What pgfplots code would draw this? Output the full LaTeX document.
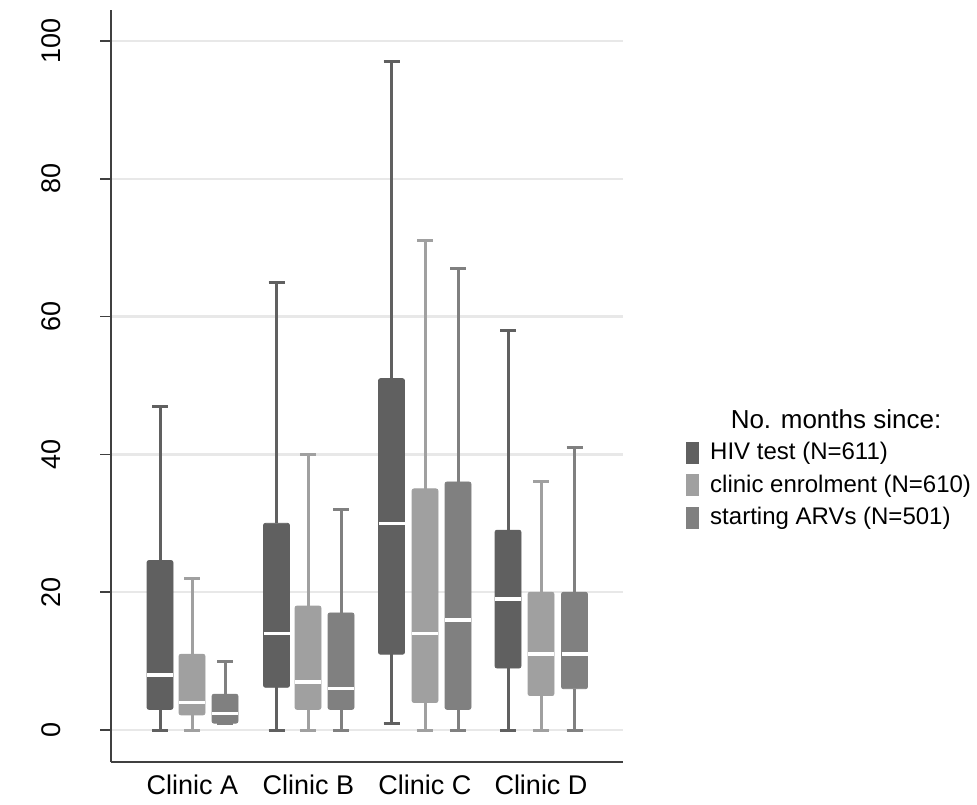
\documentclass[border=0pt]{standalone}
\usepackage{fontspec}
\setmainfont{Liberation Sans}
\usepackage{pgfplots}
\pgfplotsset{compat=1.18}
\usepgfplotslibrary{statistics}
\definecolor{cHIV}{HTML}{606060}
\definecolor{cENR}{HTML}{A0A0A0}
\definecolor{cARV}{HTML}{808080}
\definecolor{axc}{HTML}{404040}
\newcommand{\bx}[7]{%
  \addplot+[forget plot, mark=none, solid, draw=#7, fill=#7,
    boxplot prepared={draw position=#1, lower whisker=#2, lower quartile=#3,
      median=#4, upper quartile=#5, upper whisker=#6,
      box extend=26, whisker extend=16},
    boxplot/every box/.style={fill=#7, draw=#7, rounded corners=1pt, line width=0.4pt},
    boxplot/every whisker/.style={draw=#7, line width=1.5pt},
    boxplot/every median/.style={draw=white, line width=1.8pt}]
  coordinates {};}
\begin{document}
\begin{tikzpicture}
\useasboundingbox (0,0) rectangle (488.5pt,402pt);
\begin{axis}[
  at={(55.5pt,21pt)}, anchor=south west,
  scale only axis, width=256pt, height=376pt,
  xmin=111, xmax=623, ymin=-4.64, ymax=104.5,
  boxplot/draw direction=y,
  axis x line=bottom, axis y line=left,
  axis line style={-, draw=axc, line width=0.8pt},
  ytick={0,20,40,60,80,100},
  ymajorgrids, grid style={gray!18, line width=1.2pt},
  tick align=outside, major tick length=5.5pt,
  ytick style={draw=axc, line width=0.8pt},
  xtick={192.3,308.5,424.8,541},
  xticklabels={Clinic A,Clinic B,Clinic C,Clinic D},
  xtick style={draw=none},
  yticklabel style={xshift=-20pt, rotate=90, anchor=base, font=\fontsize{13.5}{16}\selectfont},
  xticklabel style={yshift=2.5pt, font=\fontsize{13.5}{16}\selectfont},
  /pgf/number format/assume math mode=true,
  legend style={at={(1.111,0.436)}, anchor=north west, draw=none, fill=none,
    font=\fontsize{12}{14}\selectfont, row sep=2pt},
  legend cell align=left,
  legend image code/.code={\fill[#1, draw=none] (0pt,-5.5pt) rectangle (6.5pt,5.5pt); \path[draw=none, fill=none] (0pt,0pt) -- (10pt,0pt);},
]
% Clinic A
\bx{160}{0}{3}{8}{24.6}{47}{cHIV}
\bx{192}{0}{2.2}{4}{11}{22}{cENR}
\bx{225}{1}{1}{2.4}{5.2}{10}{cARV}
% Clinic B
\bx{276.5}{0}{6.2}{14}{30}{65}{cHIV}
\bx{308}{0}{3}{7}{18}{40}{cENR}
\bx{341}{0}{3}{6}{17}{32}{cARV}
% Clinic C
\bx{391.5}{1}{11}{30}{51}{97}{cHIV}
\bx{425}{0}{4}{14}{35}{71}{cENR}
\bx{458}{0}{3}{16}{36}{67}{cARV}
% Clinic D
\bx{508}{0}{9}{19}{29}{58}{cHIV}
\bx{541}{0}{5}{11}{20}{36}{cENR}
\bx{574.5}{0}{6}{11}{20}{41}{cARV}
\addlegendimage{fill=cHIV}
\addlegendentry{HIV test (N=611)}
\addlegendimage{fill=cENR}
\addlegendentry{clinic enrolment (N=610)}
\addlegendimage{fill=cARV}
\addlegendentry{starting ARVs (N=501)}
\end{axis}
\node[font=\fontsize{13}{15}\selectfont] at (418pt,192.5pt) {No. months since:};
\end{tikzpicture}
\end{document}
